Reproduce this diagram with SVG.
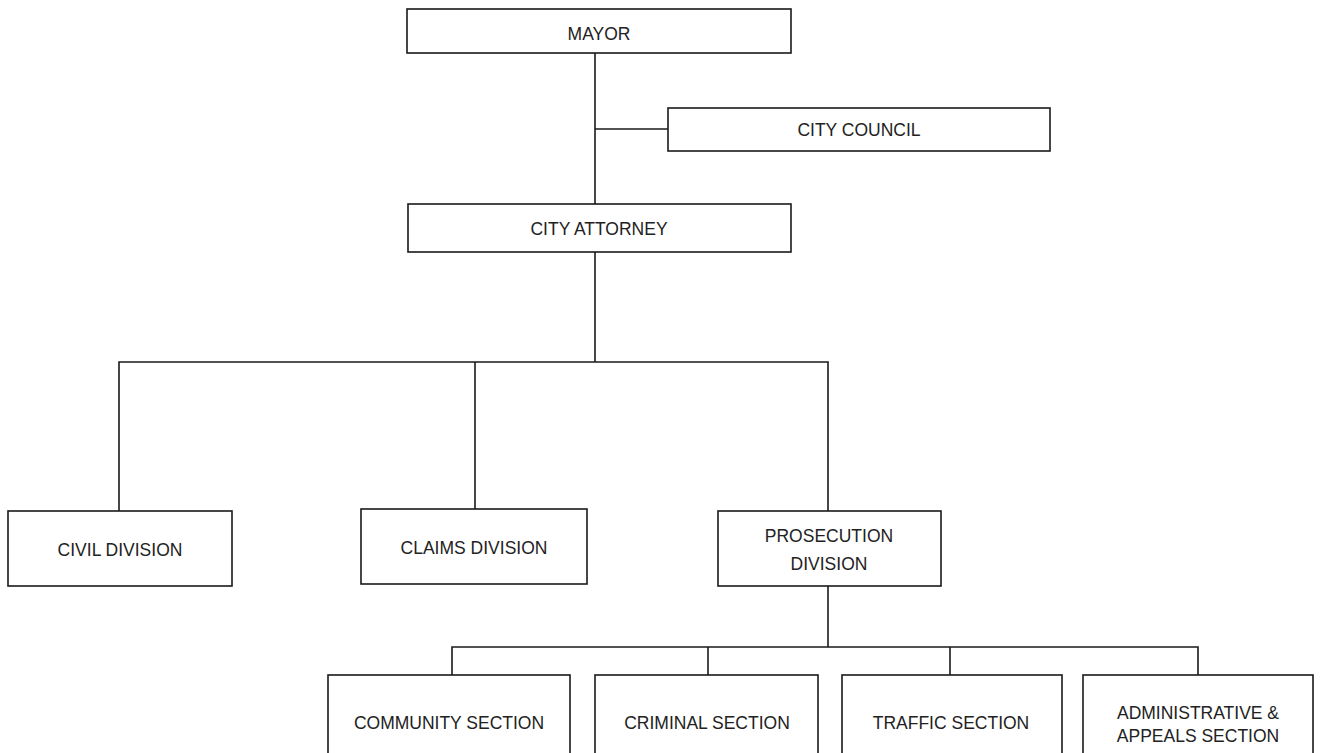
<svg xmlns="http://www.w3.org/2000/svg" width="1321" height="753" viewBox="0 0 1321 753">
<style>
.box{fill:#fff;stroke:#1a1a1a;stroke-width:1.6}
.lbl{font-family:"Liberation Sans",Arial,sans-serif;font-size:17.5px;fill:#222;text-anchor:middle}
.conn{fill:none;stroke:#1a1a1a;stroke-width:1.6}
</style>
<rect width="1321" height="753" fill="#fff"/>
<g id="connectors" class="conn">
<path d="M595,53V204"/>
<path d="M595,129H668"/>
<path d="M595,252V362"/>
<path d="M119,511V362H828V511"/>
<path d="M475,362V509"/>
<path d="M828,586V647"/>
<path d="M452,675V647H1198V675"/>
<path d="M708,647V675"/>
<path d="M950,647V675"/>
</g>
<g id="mayor"><rect class="box" x="407" y="9" width="384" height="44"/><text class="lbl" x="599" y="40">MAYOR</text></g>
<g id="city-council"><rect class="box" x="668" y="108" width="382" height="43"/><text class="lbl" x="859" y="136">CITY COUNCIL</text></g>
<g id="city-attorney"><rect class="box" x="408" y="204" width="383" height="48"/><text class="lbl" x="599" y="235">CITY ATTORNEY</text></g>
<g id="civil"><rect class="box" x="8" y="511" width="224" height="75"/><text class="lbl" x="120" y="556">CIVIL DIVISION</text></g>
<g id="claims"><rect class="box" x="361" y="509" width="226" height="75"/><text class="lbl" x="474" y="554">CLAIMS DIVISION</text></g>
<g id="prosecution"><rect class="box" x="718" y="511" width="223" height="75"/><text class="lbl" x="829" y="542">PROSECUTION</text><text class="lbl" x="829" y="570">DIVISION</text></g>
<g id="community"><rect class="box" x="328" y="675" width="242" height="95"/><text class="lbl" x="449" y="729">COMMUNITY SECTION</text></g>
<g id="criminal"><rect class="box" x="595" y="675" width="223" height="95"/><text class="lbl" x="707" y="729">CRIMINAL SECTION</text></g>
<g id="traffic"><rect class="box" x="842" y="675" width="220" height="95"/><text class="lbl" x="951" y="729">TRAFFIC SECTION</text></g>
<g id="admin"><rect class="box" x="1083" y="675" width="230" height="95"/><text class="lbl" x="1198" y="719">ADMINISTRATIVE &amp;</text><text class="lbl" x="1198" y="742">APPEALS SECTION</text></g>
</svg>
